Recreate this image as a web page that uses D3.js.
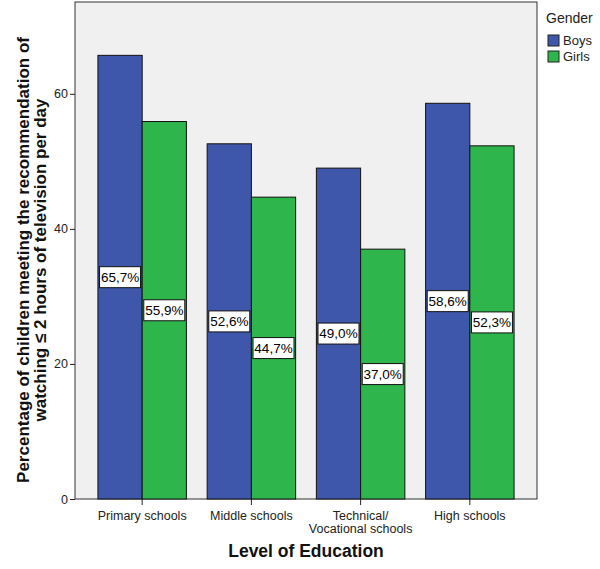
<!DOCTYPE html>
<html><head><meta charset="utf-8">
<script src="https://cdn.jsdelivr.net/npm/d3@7"></script>
<style>body{margin:0;background:#fff;} svg{display:block;font-family:Arial,"Liberation Sans",sans-serif;}</style>
</head><body>
<svg id="c" width="600" height="569"></svg>
<script>
const categories = ["Primary schools", "Middle schools", "Technical/\nVocational schools", "High schools"];
const seriesNames = ["Boys", "Girls"];
const boys = [65.7, 52.6, 49.0, 58.6];
const girls = [55.9, 44.7, 37.0, 52.3];
const yTicks = [0, 20, 40, 60];
const colors = ["#3f57ab", "#2eb54c"];

const svg = d3.select("#c");
const L = 75, R = 537, T = 2, B = 499;

const x = d3.scaleBand().domain(categories).range([L, R]).paddingInner(0.19).paddingOuter(0.21);
const xs = d3.scaleBand().domain(seriesNames).range([0, x.bandwidth()]);
const y = d3.scaleLinear().domain([0, 73.6]).range([B, T]);

svg.append("rect").attr("x", L).attr("y", T).attr("width", R - L).attr("height", B - T)
  .attr("fill", "#f0f0f0").attr("stroke", "#333").attr("stroke-width", 1);

const data = categories.map((c, i) => ({cat: c, vals: [boys[i], girls[i]]}));

const g = svg.append("g").selectAll("g").data(data).join("g")
  .attr("transform", d => `translate(${x(d.cat)},0)`);

g.selectAll("rect").data(d => d.vals.map((v, j) => ({v, s: seriesNames[j], j})))
  .join("rect")
  .attr("x", d => xs(d.s)).attr("y", d => y(d.v))
  .attr("width", xs.bandwidth()).attr("height", d => B - y(d.v))
  .attr("fill", d => colors[d.j]).attr("stroke", "#111").attr("stroke-width", 1);

const lab = g.selectAll("g.lab").data(d => d.vals.map((v, j) => ({v, s: seriesNames[j], j})))
  .join("g").attr("class", "lab")
  .attr("transform", d => `translate(${xs(d.s) + xs.bandwidth() / 2},${(y(d.v) + B) / 2})`);
lab.append("rect").attr("x", -20.5).attr("y", -10.5).attr("width", 41).attr("height", 21)
  .attr("fill", "#fff").attr("stroke", "#111").attr("stroke-width", 1);
lab.append("text").attr("text-anchor", "middle").attr("dy", "0.36em")
  .attr("font-size", 13.5).attr("fill", "#000")
  .text(d => d.v.toFixed(1).replace(".", ",") + "%");

// Y axis
const ya = svg.append("g").attr("transform", `translate(${L},0)`)
  .call(d3.axisLeft(y).tickValues(yTicks).tickSize(5).tickPadding(2).tickFormat(d3.format("d")));
ya.select(".domain").remove();
ya.selectAll("line").attr("stroke", "#222");
ya.selectAll("text").attr("font-size", 12.5).attr("fill", "#222").attr("font-family", "Arial, 'Liberation Sans', sans-serif");

// X axis
const xa = svg.append("g").attr("transform", `translate(0,${B})`)
  .call(d3.axisBottom(x).tickSize(6).tickSizeOuter(0).tickFormat(""));
xa.select(".domain").remove();
xa.selectAll("line").attr("stroke", "#222");
xa.selectAll(".tick").each(function(d) {
  const lines = d.split("\n");
  const t = d3.select(this).append("text").attr("text-anchor", "middle")
    .attr("font-size", 12.5).attr("fill", "#222");
  lines.forEach((ln, i) => t.append("tspan").attr("x", 0).attr("y", 21 + i * 13).text(ln));
});

// Axis titles
svg.append("text").attr("x", 306).attr("y", 557).attr("text-anchor", "middle")
  .attr("font-size", 17.5).attr("font-weight", "bold").attr("fill", "#111").text("Level of Education");
const yt = svg.append("text").attr("transform", "translate(29,260) rotate(-90)")
  .attr("text-anchor", "middle").attr("font-size", 17).attr("font-weight", "bold").attr("fill", "#111");
yt.append("tspan").attr("x", 0).attr("y", 0).text("Percentage of children meeting the recommendation of");
yt.append("tspan").attr("x", 0).attr("y", 17).text("watching \u2264 2 hours of television per day");

// Legend
svg.append("text").attr("x", 546).attr("y", 23).attr("font-size", 14).attr("fill", "#222").text("Gender");
const lg = svg.append("g").selectAll("g").data(seriesNames).join("g")
  .attr("transform", (d, i) => `translate(548,${35 + i * 16})`);
lg.append("rect").attr("width", 11).attr("height", 11).attr("fill", (d, i) => colors[i])
  .attr("stroke", "#222").attr("stroke-width", 1);
lg.append("text").attr("x", 15).attr("y", 10).attr("font-size", 13).attr("fill", "#222").text(d => d);
</script>
</body></html>
